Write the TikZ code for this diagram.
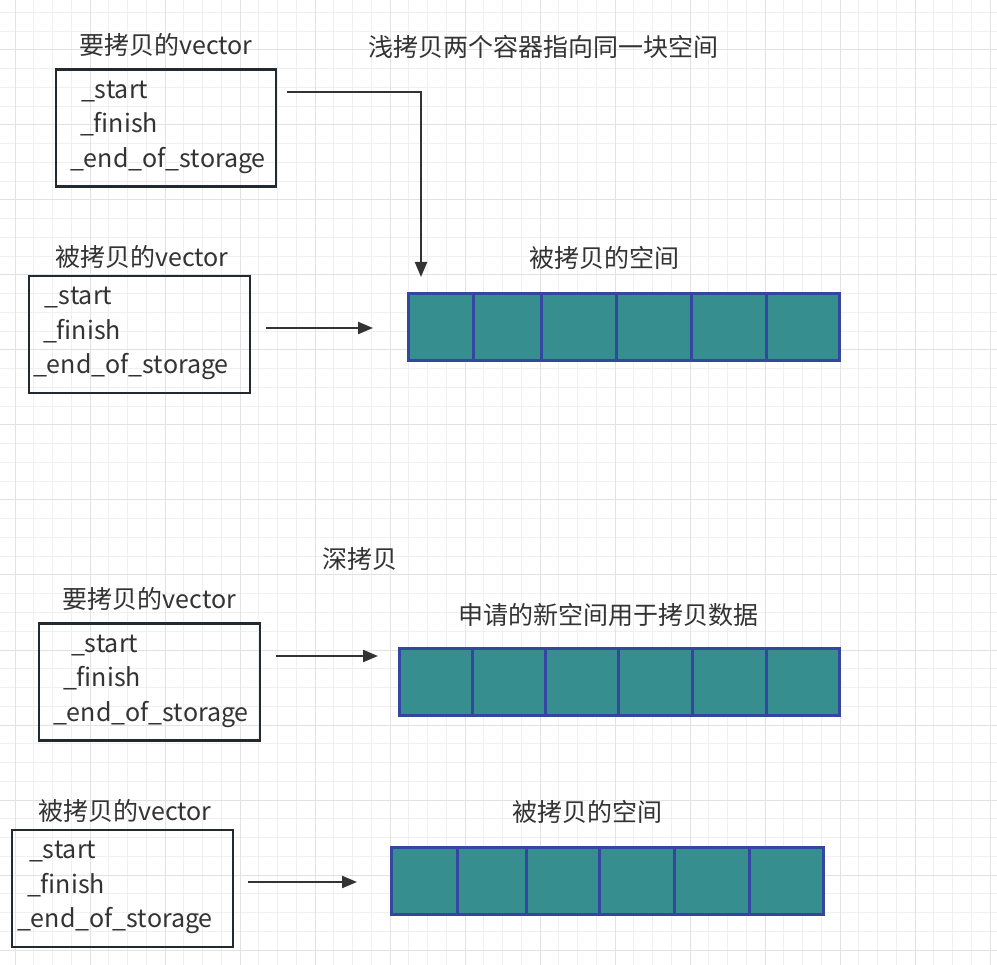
\documentclass[tikz,border=0pt]{standalone}
\usepackage{fontspec}
\setmainfont{Noto Sans CJK SC}
\usetikzlibrary{arrows.meta,positioning}
\definecolor{ink}{HTML}{333333}
\definecolor{boxline}{HTML}{222A30}
\definecolor{cellfill}{HTML}{368E8E}
\definecolor{cellline}{HTML}{3446A0}
\definecolor{gridminor}{HTML}{F0F0F0}
\definecolor{gridmajor}{HTML}{E2E2E2}
\newcommand{\vecfields}[2]{\hspace*{#1}\_start\\\hspace*{#2}\_finish\\\_end\_of\_storage\par\kern2pt}
\tikzset{
  txt/.style={text=ink,font=\fontsize{25}{34.5}\selectfont,inner sep=0pt},
  vecbox/.style={draw=boxline,line width=2.5pt,align=left,text=ink,font=\fontsize{25}{34.5}\selectfont,minimum height=117pt},
  cell/.style={draw=cellline,fill=cellfill,line width=3pt,minimum height=67pt,inner sep=0pt},
  ptr/.style={-{Triangle[length=15pt,width=12pt]},line width=2.2pt,draw=ink},
  gminor/.style={draw=gridminor,line width=1pt},
  gmajor/.style={draw=gridmajor,line width=1pt}
}
\begin{document}
\begin{tikzpicture}[x=1pt,y=-1pt]
  \fill[white] (0,0) rectangle (997,965);
  \useasboundingbox (0,0) rectangle (997,965);
  % grid
  \foreach \i in {0,...,52} \draw[gminor] ({15+18.75*\i},0) -- ({15+18.75*\i},965);
  \foreach \i in {0,...,51} \draw[gminor] (0,{12.5+18.75*\i}) -- (997,{12.5+18.75*\i});
  \foreach \i in {0,...,13} \draw[gmajor] ({15+75*\i},0) -- ({15+75*\i},965);
  \foreach \i in {0,...,12} \draw[gmajor] (0,{50+75*\i}) -- (997,{50+75*\i});

  % shallow copy
  \node[txt] (shtitle) at (543,47) {浅拷贝两个容器指向同一块空间};
  \node[vecbox,inner xsep=14pt,text width=192pt] (shcopy) at (166,128) {\vecfields{11pt}{10pt}};
  \node[txt,above=11.5pt of shcopy] (shcopyl) {要拷贝的vector};
  \node[vecbox,inner xsep=4pt,text width=213pt] (shorig) at (139.5,334.5) {\vecfields{12pt}{10pt}};
  \node[txt,above=6.5pt of shorig,xshift=2.5pt] (shorigl) {被拷贝的vector};
  \node[txt] (shmeml) at (604,258) {被拷贝的空间};
  \foreach \l/\r [count=\i] in {408/473,473/541,541/616,616/691,691/766,766/839}
    \node[cell,minimum width={(\r-\l)*1pt}] (sh\i) at ({(\l+\r)/2},327.5) {};
  \coordinate (shp1) at (287,92);
  \coordinate (shq1) at (421,277);
  \coordinate (shp2) at (266,328);
  \coordinate (shq2) at (373,328);
  \draw[ptr] (shp1) -| (shq1);
  \draw[ptr] (shp2) -- (shq2);

  % deep copy
  \node[txt] (dptitle) at (360,559) {深拷贝};
  \node[vecbox,inner xsep=14pt,text width=193pt] (dpcopy) at (149.5,682) {\vecfields{18pt}{10pt}};
  \node[txt,above=11.5pt of dpcopy] (dpcopyl) {要拷贝的vector};
  \node[txt] (dpnewl) at (608,615) {申请的新空间用于拷贝数据};
  \foreach \l/\r [count=\i] in {399/472,472/545,545/618,618/692,692/766,766/839}
    \node[cell,minimum width={(\r-\l)*1pt}] (dn\i) at ({(\l+\r)/2},681.5) {};
  \node[vecbox,inner xsep=5pt,text width=211pt] (dporig) at (122.5,888.5) {\vecfields{12pt}{10pt}};
  \node[txt,above=6.5pt of dporig,xshift=2.5pt] (dporigl) {被拷贝的vector};
  \node[txt] (dpmeml) at (587,812) {被拷贝的空间};
  \foreach \l/\r [count=\i] in {391/457,457/526,526/599,599/674,674/749,749/823}
    \node[cell,minimum width={(\r-\l)*1pt}] (do\i) at ({(\l+\r)/2},881) {};
  \coordinate (dpp1) at (276,656);
  \coordinate (dpq1) at (378,656);
  \coordinate (dpp2) at (248,882);
  \coordinate (dpq2) at (357,882);
  \draw[ptr] (dpp1) -- (dpq1);
  \draw[ptr] (dpp2) -- (dpq2);
\end{tikzpicture}
\end{document}
